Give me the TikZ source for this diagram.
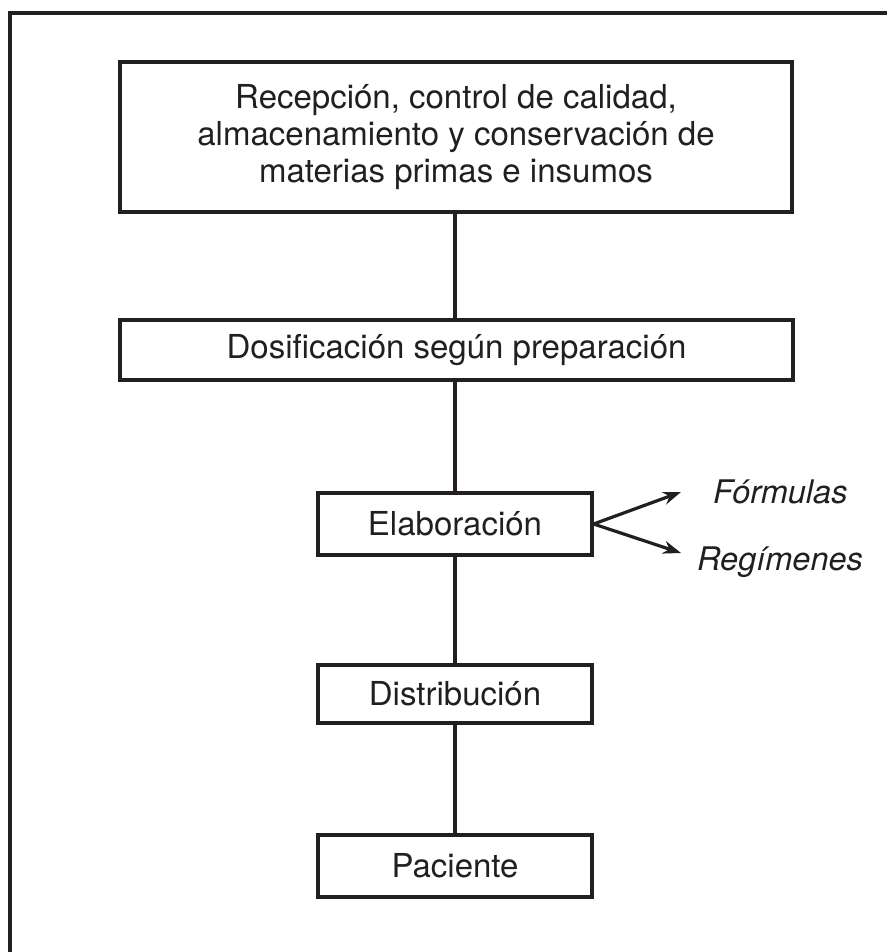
\documentclass[tikz,border=0pt]{standalone}
\usepackage{fontspec}
\setmainfont{TeX Gyre Heros}
\usetikzlibrary{arrows.meta}
\definecolor{ink}{HTML}{231F20}
\begin{document}
\begin{tikzpicture}[x=1pt,y=-1pt,
  box/.style={draw=ink, line width=3.2pt, inner sep=0pt, font=\fontsize{33}{37}\selectfont, text=ink, align=center},
  link/.style={draw=ink, line width=3.2pt},
  arr/.style={draw=ink, line width=3.2pt, -{Stealth[length=18pt,width=13pt]}},
  lbl/.style={font=\fontsize{32.5}{37}\selectfont\itshape, text=ink, anchor=west, inner sep=0pt}]
\useasboundingbox (0,0) rectangle (887,952);
\draw[ink, line width=3.2pt] (10,952) -- (10,13) -- (887,13);
\node[box, minimum width=672pt, minimum height=150pt] (a) at (456,137)
  {Recepción, control de calidad,\\almacenamiento y conservación de\\materias primas e insumos};
\node[box, minimum width=673pt, minimum height=60pt] (b) at (456.5,350) {Dosificación según preparación};
\node[box, minimum width=274pt, minimum height=62pt] (c) at (455,524) {Elaboración};
\node[box, minimum width=274pt, minimum height=58pt] (d) at (455,694) {Distribución};
\node[box, minimum width=274pt, minimum height=62pt] (e) at (455,866) {Paciente};
\node[lbl] (f) at (713,492) {Fórmulas};
\node[lbl] (g) at (697,562) {Regímenes};
\coordinate (ft) at (681,492);
\coordinate (gt) at (681,553);
\draw[link] (a.south -| c.north) -- (b.north -| c.north);
\draw[link] (b.south -| c.north) -- (c.north);
\draw[link] (c.south) -- (d.north);
\draw[link] (d.south) -- (e.north);
\draw[arr] (c.east) -- (ft);
\draw[arr] (c.east) -- (gt);
\end{tikzpicture}
\end{document}
